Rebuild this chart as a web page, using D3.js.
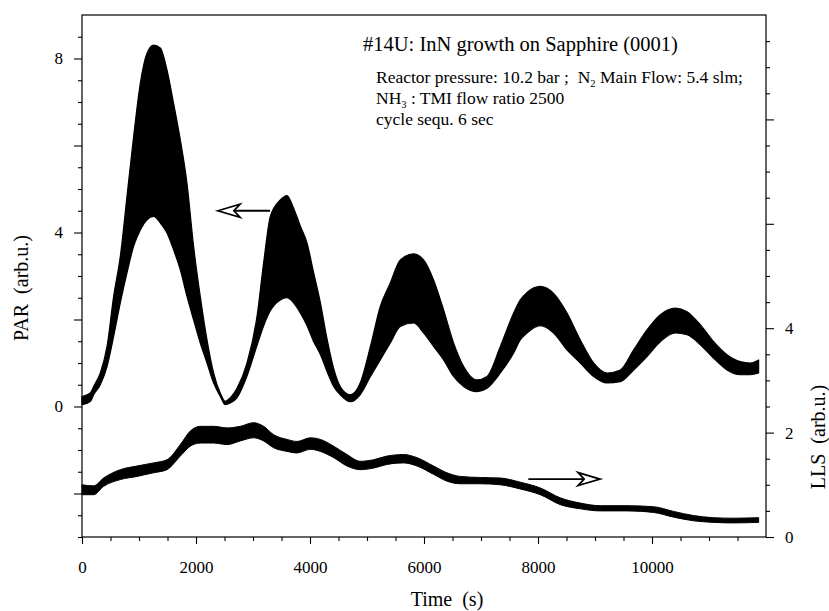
<!DOCTYPE html>
<html>
<head>
<meta charset="utf-8">
<script src="https://cdn.jsdelivr.net/npm/d3@7/dist/d3.min.js"></script>
<style>
  html, body { margin: 0; padding: 0; background: #fff; }
  svg { display: block; }
  text { font-family: "Liberation Serif", "Times New Roman", serif; fill: #000; }
</style>
</head>
<body>
<svg id="chart" width="829" height="611"></svg>
<script>
// PAR signal (left axis): upper and lower envelope of the fast 6 s cycle oscillation
const parTime = [0, 150, 204, 321, 439, 555, 672, 789, 905, 1023, 1140, 1256, 1374, 1491, 1607, 1725, 1842, 1958, 2075, 2193, 2309, 2426, 2514,
  2600, 2719, 2895, 3070, 3186, 3304, 3479, 3596, 3700, 3830, 3950, 4060, 4180, 4300, 4420, 4530, 4710, 4880, 5060, 5233, 5409, 5584, 5818,
  5993, 6168, 6344, 6519, 6695, 6930, 7105, 7339, 7573, 7689, 7807, 8040, 8274, 8509, 8742, 8976, 9211, 9444, 9678, 9912, 10146, 10409,
  10614, 10848, 11081, 11316, 11549, 11725, 11871];
const parHigh = [0.23, 0.32, 0.46, 0.77, 1.38, 2.53, 3.45, 4.83, 6.2, 7.43, 8.12, 8.31, 8.24, 7.74, 6.97, 6.13, 5.13, 3.68, 2.53, 1.53, 0.77, 0.31, 0.12,
  0.2, 0.42, 1.0, 2.07, 3.3, 4.37, 4.75, 4.85, 4.6, 4.15, 3.75, 3.1, 2.4, 1.55, 0.85, 0.46, 0.27, 0.54, 1.38, 2.3, 2.84, 3.37, 3.51,
  3.37, 2.91, 2.22, 1.46, 0.92, 0.61, 0.69, 1.38, 2.15, 2.45, 2.62, 2.76, 2.6, 2.15, 1.53, 1.0, 0.77, 0.84, 1.3, 1.76, 2.11, 2.26,
  2.18, 1.88, 1.49, 1.19, 1.03, 1.0, 1.07];
const parLow = [0.04, 0.12, 0.27, 0.5, 0.92, 1.61, 2.38, 3.07, 3.68, 4.06, 4.29, 4.37, 4.22, 3.99, 3.6, 3.14, 2.53, 1.99, 1.46, 1.0, 0.54, 0.23, 0.04,
  0.08, 0.2, 0.7, 1.4, 1.85, 2.2, 2.45, 2.5, 2.4, 2.15, 1.85, 1.5, 1.2, 0.8, 0.45, 0.27, 0.11, 0.27, 0.69, 1.07, 1.46, 1.84, 1.92,
  1.69, 1.38, 1.07, 0.69, 0.46, 0.34, 0.42, 0.77, 1.23, 1.53, 1.69, 1.86, 1.69, 1.3, 1.0, 0.69, 0.54, 0.57, 0.84, 1.15, 1.49, 1.69,
  1.65, 1.42, 1.11, 0.84, 0.73, 0.73, 0.77];

// LLS signal (right axis): upper and lower edge of the noisy trace
const llsTime = [0, 204, 379, 672, 965, 1256, 1491, 1725, 1900, 2075, 2309, 2544, 2777, 3011, 3186, 3362, 3596, 3772, 4005, 4181, 4415, 4649,
  4882, 5116, 5350, 5643, 5877, 6168, 6403, 6637, 6988, 7339, 7689, 8040, 8391, 8742, 9093, 9561, 10029, 10380, 10731, 11081, 11432, 11871];
const llsHigh = [1.0, 0.98, 1.13, 1.29, 1.36, 1.42, 1.48, 1.77, 2.03, 2.12, 2.12, 2.09, 2.12, 2.19, 2.12, 1.96, 1.87, 1.83, 1.9, 1.87, 1.74, 1.58,
  1.45, 1.48, 1.55, 1.58, 1.52, 1.36, 1.23, 1.16, 1.14, 1.13, 1.05, 0.94, 0.75, 0.65, 0.6, 0.6, 0.58, 0.49, 0.41, 0.37, 0.36, 0.37];
const llsLow = [0.81, 0.81, 0.97, 1.1, 1.16, 1.23, 1.29, 1.55, 1.74, 1.8, 1.8, 1.77, 1.84, 1.9, 1.84, 1.71, 1.64, 1.61, 1.68, 1.64, 1.52, 1.36,
  1.29, 1.32, 1.39, 1.42, 1.36, 1.2, 1.07, 1.02, 1.02, 1.0, 0.92, 0.81, 0.62, 0.54, 0.5, 0.5, 0.47, 0.38, 0.31, 0.28, 0.27, 0.28];

// Axis ticks
const timeMajor = [0, 2000, 4000, 6000, 8000, 10000];
const parMajor = [-2, 0, 2, 4, 6, 8];
const parLabelled = [0, 4, 8];
const llsMajor = [0, 2, 4, 6, 8];
const llsLabelled = [0, 2, 4];

const svg = d3.select("#chart");
const plotLeft = 82, plotRight = 766, plotTop = 15, plotBottom = 537;

const x = d3.scaleLinear().domain([0, 12000]).range([plotLeft, plotRight]);
const yPar = d3.scaleLinear().domain([-3, 9]).range([plotBottom, plotTop]);
const yLls = d3.scaleLinear().domain([0, 10]).range([plotBottom, plotTop]);

const halfSteps = (a, b) => d3.range(a, b + 0.001, 0.5);

// PAR band
const parRows = parTime.map((t, i) => ({ t, hi: parHigh[i], lo: parLow[i] }));
svg.append("path")
  .datum(parRows)
  .attr("d", d3.area().x(d => x(d.t)).y0(d => yPar(d.lo)).y1(d => yPar(d.hi)).curve(d3.curveMonotoneX))
  .attr("fill", "#000").attr("stroke", "#000").attr("stroke-width", 1.2).attr("stroke-linejoin", "round");

// LLS band
const llsRows = llsTime.map((t, i) => ({ t, hi: llsHigh[i], lo: llsLow[i] }));
svg.append("path")
  .datum(llsRows)
  .attr("d", d3.area().x(d => x(d.t)).y0(d => yLls(d.lo)).y1(d => yLls(d.hi)).curve(d3.curveMonotoneX))
  .attr("fill", "#000").attr("stroke", "#000").attr("stroke-width", 1).attr("stroke-linejoin", "round");

// Frame
svg.append("rect").attr("x", plotLeft).attr("y", plotTop).attr("width", plotRight - plotLeft).attr("height", plotBottom - plotTop)
  .attr("fill", "none").attr("stroke", "#000").attr("stroke-width", 1.2);

function styleAxis(g) {
  g.select(".domain").remove();
  g.selectAll(".tick line").attr("stroke", "#000").attr("stroke-width", 1.1);
  g.selectAll(".tick text").style("font-family", '"Liberation Serif", "Times New Roman", serif').style("font-size", "17px").attr("fill", "#000");
}

// Bottom axis
svg.append("g").attr("transform", `translate(0,${plotBottom})`)
  .call(d3.axisBottom(x).tickValues(d3.range(0, 12000, 500).filter(v => !timeMajor.includes(v))).tickSize(4).tickFormat(""))
  .call(styleAxis);
svg.append("g").attr("transform", `translate(0,${plotBottom})`)
  .call(d3.axisBottom(x).tickValues(timeMajor).tickSize(7).tickPadding(17).tickFormat(d3.format("d")))
  .call(styleAxis);

// Left axis
svg.append("g").attr("transform", `translate(${plotLeft},0)`)
  .call(d3.axisLeft(yPar).tickValues(halfSteps(-3, 8.5).filter(v => !parMajor.includes(v))).tickSize(4).tickFormat(""))
  .call(styleAxis);
svg.append("g").attr("transform", `translate(${plotLeft},0)`)
  .call(d3.axisLeft(yPar).tickValues(parMajor).tickSize(8).tickPadding(11)
    .tickFormat(v => parLabelled.includes(v) ? d3.format("d")(v) : ""))
  .call(styleAxis);

// Right axis
svg.append("g").attr("transform", `translate(${plotRight},0)`)
  .call(d3.axisRight(yLls).tickValues(halfSteps(0, 9.5).filter(v => !llsMajor.includes(v))).tickSize(4).tickFormat(""))
  .call(styleAxis);
svg.append("g").attr("transform", `translate(${plotRight},0)`)
  .call(d3.axisRight(yLls).tickValues(llsMajor).tickSize(8).tickPadding(11)
    .tickFormat(v => llsLabelled.includes(v) ? d3.format("d")(v) : ""))
  .call(styleAxis);

// Axis titles
svg.append("text").attr("transform", "translate(28,288) rotate(-90)").attr("text-anchor", "middle")
  .style("font-size", "20px").style("white-space", "pre").text("PAR  (arb.u.)");
svg.append("text").attr("transform", "translate(825,437) rotate(-90)").attr("text-anchor", "middle")
  .style("font-size", "20px").style("white-space", "pre").text("LLS  (arb.u.)");
svg.append("text").attr("x", 447).attr("y", 606).attr("text-anchor", "middle")
  .style("font-size", "20px").style("white-space", "pre").text("Time  (s)");

// Header text
svg.append("text").attr("x", 363).attr("y", 51).style("font-size", "20.5px")
  .text("#14U: InN growth on Sapphire (0001)");

const info = svg.append("g").style("font-size", "17.5px");
const l1 = info.append("text").attr("x", 376).attr("y", 83).style("white-space", "pre");
l1.append("tspan").text("Reactor pressure: 10.2 bar ;  N");
l1.append("tspan").attr("dy", 4).style("font-size", "10.5px").text("2");
l1.append("tspan").attr("dy", -4).text(" Main Flow: 5.4 slm;");
const l2 = info.append("text").attr("x", 376).attr("y", 104).style("white-space", "pre");
l2.append("tspan").text("NH");
l2.append("tspan").attr("dy", 4).style("font-size", "10.5px").text("3");
l2.append("tspan").attr("dy", -4).text(" : TMI flow ratio 2500");
info.append("text").attr("x", 376).attr("y", 125).text("cycle sequ. 6 sec");

// Arrows pointing to the axis each trace belongs to
function arrow(x0, x1, y, dir) {
  // x1 is the tip; dir = -1 points left, +1 points right
  const headLen = 22, notch = 6, halfH = 6.5;
  const back = x1 - dir * headLen, mid = x1 - dir * (headLen - notch);
  svg.append("line").attr("x1", x0).attr("y1", y).attr("x2", mid).attr("y2", y)
    .attr("stroke", "#000").attr("stroke-width", 1.8);
  svg.append("path")
    .attr("d", `M${x1},${y} L${back},${y - halfH} L${mid},${y} L${back},${y + halfH} Z`)
    .attr("fill", "#fff").attr("stroke", "#000").attr("stroke-width", 1.8).attr("stroke-linejoin", "miter");
}
arrow(x(3300), x(2385), yPar(4.5), -1);
arrow(x(7830), x(9090), yLls(1.11), 1);
</script>
</body>
</html>
